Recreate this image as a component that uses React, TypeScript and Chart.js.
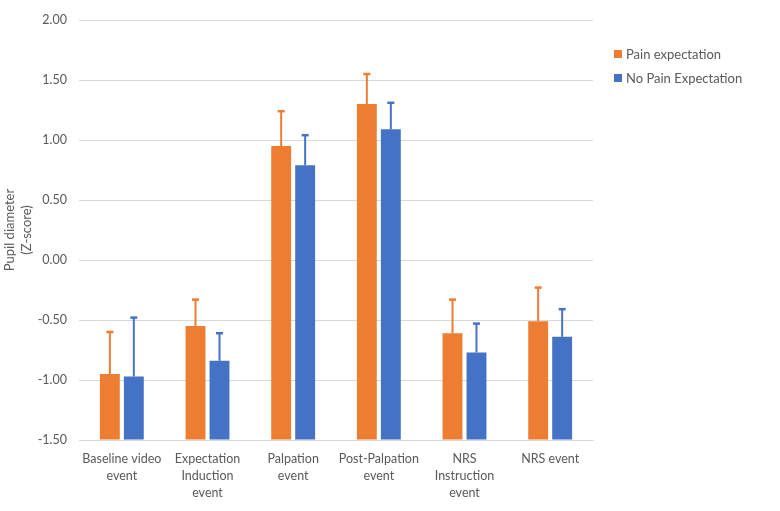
import { useEffect, useRef } from "react";
import { Chart, registerables } from "chart.js";

Chart.register(...registerables);

const categories = [
  ["Baseline video", "event"],
  ["Expectation", "Induction", "event"],
  ["Palpation", "event"],
  ["Post-Palpation", "event"],
  ["NRS", "Instruction", "event"],
  ["NRS event"],
];
const seriesNames = ["Pain expectation", "No Pain Expectation"];
const painValues = [-0.95, -0.55, 0.95, 1.3, -0.61, -0.51];
const noPainValues = [-0.97, -0.84, 0.79, 1.09, -0.77, -0.64];
// upper error bar lengths (only the positive side is shown)
const painErr = [0.35, 0.22, 0.29, 0.25, 0.28, 0.28];
const noPainErr = [0.49, 0.23, 0.25, 0.22, 0.24, 0.23];
const yTicks = [-1.5, -1.0, -0.5, 0.0, 0.5, 1.0, 1.5, 2.0];

const ORANGE = "#ED7D31";
const BLUE = "#4472C4";
const TEXT = "#595959";
const FONT = "Lato, 'Open Sans', sans-serif";

const errorBars = {
  id: "errorBars",
  afterDatasetsDraw(chart: any) {
    const { ctx } = chart;
    const y = chart.scales.y;
    chart.data.datasets.forEach((ds: any, di: number) => {
      const meta = chart.getDatasetMeta(di);
      meta.data.forEach((bar: any, i: number) => {
        const top = y.getPixelForValue(ds.data[i] + ds.errUp[i]);
        ctx.save();
        ctx.strokeStyle = ds.backgroundColor;
        ctx.lineWidth = 2;
        ctx.beginPath();
        ctx.moveTo(bar.x, bar.y);
        ctx.lineTo(bar.x, top);
        ctx.stroke();
        ctx.lineWidth = 2.5;
        ctx.beginPath();
        ctx.moveTo(bar.x - 3.5, top);
        ctx.lineTo(bar.x + 3.5, top);
        ctx.stroke();
        ctx.restore();
      });
    });
  },
};

export default function App() {
  const canvasRef = useRef<HTMLCanvasElement>(null);

  useEffect(() => {
    document.body.style.margin = "0";
    if (!canvasRef.current) return;
    const chart = new Chart(canvasRef.current, {
      type: "bar",
      data: {
        labels: categories,
        datasets: [
          {
            label: seriesNames[0],
            data: painValues,
            errUp: painErr,
            backgroundColor: ORANGE,
            base: yTicks[0],
          } as any,
          {
            label: seriesNames[1],
            data: noPainValues,
            errUp: noPainErr,
            backgroundColor: BLUE,
            base: yTicks[0],
          } as any,
        ],
      },
      options: {
        animation: false,
        responsive: false,
        devicePixelRatio: 1,
        layout: { padding: { top: 20, right: 187, left: 0, bottom: 0 } },
        datasets: { bar: { categoryPercentage: 0.56, barPercentage: 0.83 } },
        plugins: {
          legend: { display: false },
          tooltip: { enabled: false },
        },
        scales: {
          x: {
            grid: { display: false },
            border: { display: true, color: "#d9d9d9" },
            ticks: {
              color: TEXT,
              font: { family: FONT, size: 12.5, lineHeight: 1.36 },
              maxRotation: 0,
              autoSkip: false,
              padding: 2,
            },
            afterFit(scale: any) {
              scale.height = 71;
            },
          },
          y: {
            min: yTicks[0],
            max: yTicks[yTicks.length - 1],
            grid: { color: "#d9d9d9", drawTicks: false },
            border: { display: false },
            ticks: {
              stepSize: 0.5,
              color: TEXT,
              padding: 12,
              font: { family: FONT, size: 12.5 },
              callback: (v: any) => Number(v).toFixed(2),
            },
            title: {
              display: true,
              text: ["Pupil diameter", "(Z-score)"],
              color: TEXT,
              font: { family: FONT, size: 13, lineHeight: 1.3 },
              padding: { top: 1, bottom: 0 },
            },
            afterFit(scale: any) {
              scale.width = 79;
            },
          },
        },
      },
      plugins: [errorBars],
    });
    return () => chart.destroy();
  }, []);

  return (
    <div style={{ position: "relative", width: 780, height: 511, background: "#fff" }}>
      <canvas ref={canvasRef} width={780} height={511} />
      <div
        style={{
          position: "absolute",
          left: 614,
          top: 42,
          fontFamily: FONT,
          fontSize: 13,
          color: TEXT,
          lineHeight: "24px",
        }}
      >
        {seriesNames.map((name, i) => (
          <div key={name} style={{ display: "flex", alignItems: "center" }}>
            <span
              style={{
                width: 8,
                height: 8,
                background: i === 0 ? ORANGE : BLUE,
                marginRight: 4,
                display: "inline-block",
              }}
            />
            {name}
          </div>
        ))}
      </div>
    </div>
  );
}
